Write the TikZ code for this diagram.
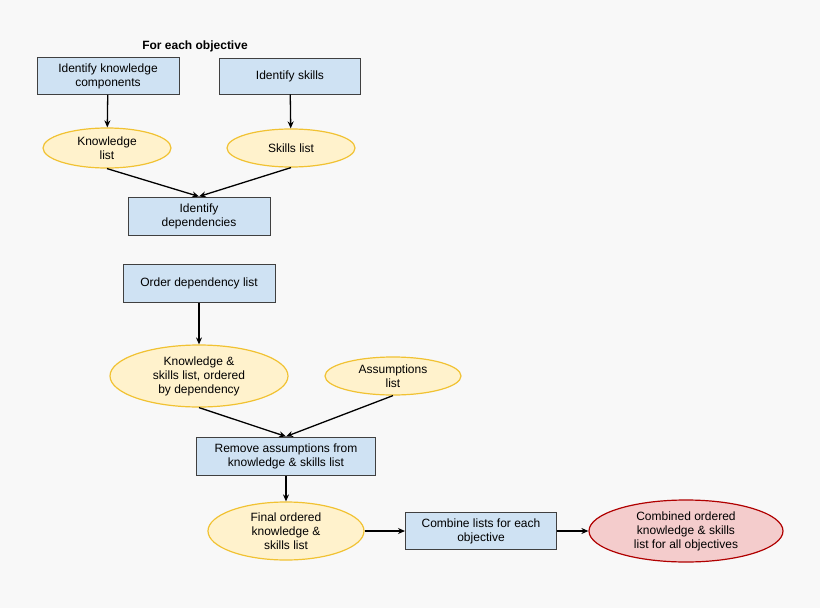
\documentclass[tikz,border=0pt]{standalone}
\usepackage{fontspec}
\setmainfont{Liberation Sans}
\usetikzlibrary{shapes.geometric, arrows.meta, positioning}
\definecolor{bg}{HTML}{F8F8F8}
\definecolor{boxfill}{HTML}{CFE2F3}
\definecolor{listfill}{HTML}{FFF2CC}
\definecolor{listline}{HTML}{F1C232}
\definecolor{endfill}{HTML}{F4CCCC}
\definecolor{endline}{HTML}{B00000}
\tikzset{
  task/.style = {draw=black!75, fill=boxfill, line width=1pt, align=center, inner sep=0pt},
  list/.style = {ellipse, draw=listline, fill=listfill, line width=1.2pt, align=center, inner sep=0pt},
  final/.style = {ellipse, draw=endline, fill=endfill, line width=1.2pt, align=center, inner sep=0pt},
  flow/.style = {-{Stealth[length=7pt,width=6pt]}, line width=1.3pt}
}
\begin{document}
\begin{tikzpicture}[x=1pt, y=-1pt, font=\fontsize{12}{14}\selectfont]
\fill[bg] (0,0) rectangle (820,608);
\useasboundingbox (0,0) rectangle (820,608);
\node(title) at (195,46) {\bfseries For each objective};
\node[task, minimum width=142pt, minimum height=37pt](idk) at (108,76) {Identify knowledge\\components};
\node[task, minimum width=141pt, minimum height=36pt](ids) at (290,76) {Identify skills};
\node[list, minimum width=128pt, minimum height=40pt](kl) at (107,148) {Knowledge\\list};
\node[list, minimum width=128pt, minimum height=38pt](sl) at (291,148) {Skills list};
\node[task, minimum width=142pt, minimum height=38pt](dep) at (199,216) {Identify\\dependencies};
\node[task, minimum width=152pt, minimum height=38pt](ord) at (199,283) {Order dependency list};
\node[list, minimum width=178pt, minimum height=62pt](ksl) at (199,376) {Knowledge \&\\skills list, ordered\\by dependency};
\node[list, minimum width=136pt, minimum height=38pt](asl) at (393,376) {Assumptions\\list};
\node[task, minimum width=179pt, minimum height=38pt](rem) at (286,456) {Remove assumptions from\\knowledge \& skills list};
\node[list, minimum width=156pt, minimum height=58pt](fin) at (286,531) {Final ordered\\knowledge \&\\skills list};
\node[task, minimum width=151pt, minimum height=37pt](comb) at (481,531) {Combine lists for each\\objective};
\node[final, minimum width=194pt, minimum height=62pt](all) at (686,531) {Combined ordered\\knowledge \& skills\\list for all objectives};
\draw[flow] (idk) -- (kl);
\draw[flow] (ids) -- (sl);
\draw[flow] (kl.south) -- (dep.north);
\draw[flow] (sl.south) -- (dep.north);
\draw[flow] (ord) -- (ksl);
\draw[flow] (ksl.south) -- (rem.north);
\draw[flow] (asl.south) -- (rem.north);
\draw[flow] (rem) -- (fin);
\draw[flow] (fin) -- (comb);
\draw[flow] (comb) -- (all);
\end{tikzpicture}
\end{document}
